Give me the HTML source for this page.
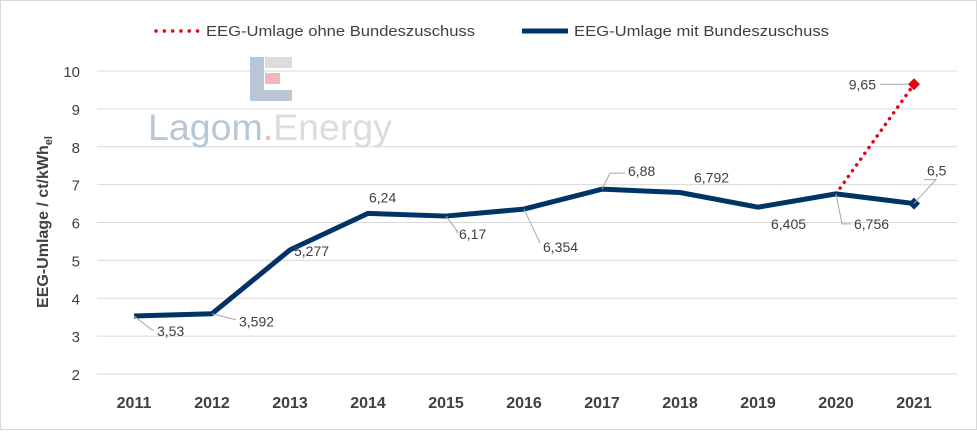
<!DOCTYPE html>
<html><head><meta charset="utf-8"><style>
body{margin:0;background:#fff;width:977px;height:430px;overflow:hidden;font-family:"Liberation Sans",Arial,sans-serif}
</style></head><body>
<svg id="chart" width="977" height="430" xmlns="http://www.w3.org/2000/svg">
<rect x="0.5" y="0.5" width="976" height="429" fill="#fff" stroke="#d9d9d9"/>
<g id="grid"></g>
<g>
<rect x="250" y="57" width="14" height="44" fill="#b8c7d6"/>
<rect x="250" y="90" width="42" height="11" fill="#b8c7d6"/>
<rect x="265" y="57" width="27" height="11" fill="#dcdcdc"/>
<rect x="265" y="73" width="15" height="11" fill="#f4b6bb"/>
<text x="148" y="140" font-size="37" fill="#b8c7d6" textLength="244" lengthAdjust="spacingAndGlyphs">Lagom<tspan fill="#f4b6bb">.</tspan><tspan fill="#dcdcdc">Energy</tspan></text>
</g>
<g id="axes"></g>
<g id="series"></g>
<g id="labels"></g>
<g>
<g>
<line x1="156" y1="31" x2="198" y2="31" stroke="#e30613" stroke-width="3.5" stroke-dasharray="0.1 8.2" stroke-linecap="round"/>
<text x="206" y="36" font-size="15" fill="#404040" textLength="269" lengthAdjust="spacingAndGlyphs">EEG-Umlage ohne Bundeszuschuss</text>
</g>
<g>
<line x1="522" y1="31" x2="568" y2="31" stroke="#003366" stroke-width="5"/>
<text x="574" y="36" font-size="15" fill="#404040" textLength="255" lengthAdjust="spacingAndGlyphs">EEG-Umlage mit Bundeszuschuss</text>
</g>
</g>
<text transform="translate(48,222) rotate(-90)" text-anchor="middle" font-size="16" font-weight="bold" fill="#404040">EEG-Umlage / ct/kWh<tspan font-size="11" dy="4">el</tspan></text>
</svg>
<script>
const years=["2011","2012","2013","2014","2015","2016","2017","2018","2019","2020","2021"];
const mitValues=[3.53,3.592,5.277,6.24,6.17,6.354,6.88,6.792,6.405,6.756,6.5];
const mitLabels=["3,53","3,592","5,277","6,24","6,17","6,354","6,88","6,792","6,405","6,756","6,5"];
const ohneYears=["2020","2021"];
const ohneValues=[6.756,9.65];
const ohneLabels=["","9,65"];
const yTicks=[2,3,4,5,6,7,8,9,10];

const NS="http://www.w3.org/2000/svg";
const x0=134,xStep=78,yMin=2,yMax=10,yTop=71,yBot=374;
function xs(i){return x0+i*xStep;}
function ys(v){return yBot-(v-yMin)/(yMax-yMin)*(yBot-yTop);}
function mk(tag,attrs,parent){const e=document.createElementNS(NS,tag);for(const k in attrs)e.setAttribute(k,attrs[k]);parent.appendChild(e);return e;}
const grid=document.getElementById('grid'),axes=document.getElementById('axes'),series=document.getElementById('series'),labels=document.getElementById('labels');
yTicks.forEach(t=>{
  const l=mk('line',{x1:97,x2:957,y1:ys(t),y2:ys(t),stroke:'#d9d9d9','stroke-width':1},grid);
  
  
  const tx=mk('text',{x:80,y:ys(t)+6,'text-anchor':'end','font-size':15,fill:'#404040'},axes);
  tx.textContent=t;
  
  
});
years.forEach((y,i)=>{
  const tx=mk('text',{x:xs(i),y:408,'text-anchor':'middle','font-size':16,'font-weight':'bold',fill:'#404040'},axes);
  tx.textContent=y;
  
  
});
const oi=ohneYears.map(y=>years.indexOf(y));
const op=mk('polyline',{points:oi.map((i,k)=>xs(i)+','+ys(ohneValues[k])).join(' '),fill:'none',stroke:'#e30613','stroke-width':3.5,'stroke-dasharray':'0.1 7','stroke-linecap':'round'},series);


const mp=mk('polyline',{points:mitValues.map((v,i)=>xs(i)+','+ys(v)).join(' '),fill:'none',stroke:'#003366','stroke-width':5,'stroke-linejoin':'round'},series);


function diamond(cx,cy,r,fill,name){
  const d=mk('path',{d:`M${cx},${cy-r}L${cx+r},${cy}L${cx},${cy+r}L${cx-r},${cy}Z`,fill:fill},series);
  
  
}
diamond(xs(10),ys(mitValues[10]),6,'#003366','marker-mit-2021');
diamond(xs(oi[1]),ys(ohneValues[1]),6,'#e30613','marker-ohne-2021');
// label style offsets: [leader end dx, leader end dy, text start dx, text center dy]
const off=[[18,14,23,15],[24,6,27,8],[0,0,4,1],[0,0,1,-16],[12,16,13,18],[16,34,19,38],[8,-16,26,-18],[0,0,14,-15],[0,0,13,17],[6,30,18,30],[22,-24,13,-33]];
mitValues.forEach((v,i)=>{
  const px=xs(i),py=ys(v),o=off[i];
  if(o[0]||o[1]){const ln=mk('polyline',{points:`${px},${py} ${px+o[0]},${py+o[1]} ${px+o[2]-3},${py+o[1]}`,fill:'none',stroke:'#a6a6a6','stroke-width':1},labels);
  
  }
  const t=mk('text',{x:px+o[2],y:py+o[3]+5,'font-size':14,fill:'#404040'},labels);
  t.textContent=mitLabels[i];
  
  
});
{
  const px=xs(oi[1]),py=ys(ohneValues[1]);
  const ln=mk('line',{x1:px-6,y1:py,x2:px-34,y2:py,stroke:'#a6a6a6','stroke-width':1},labels);
  
  
  const t=mk('text',{x:px-38,y:py+5,'text-anchor':'end','font-size':14,fill:'#404040'},labels);
  t.textContent=ohneLabels[1];
  
  
}
</script>
</body></html>
